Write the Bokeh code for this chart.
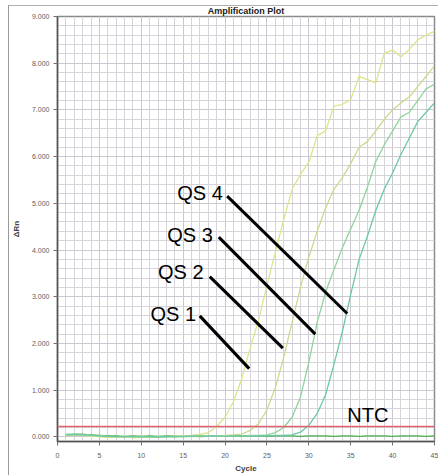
from bokeh.plotting import figure
from bokeh.models import (SingleIntervalTicker, NumeralTickFormatter,
                          Range1d, ColumnDataSource, Span)
from bokeh.core.properties import value
from bokeh.embed import file_html
from bokeh.resources import INLINE

# ---------------- data ----------------
cycles = list(range(1, 46))

qs1 = [0.03, 0.05, 0.04, 0.02, 0.00, -0.01, 0.00, 0.01, -0.02, -0.01,
       0.00, 0.01, 0.00, 0.02, 0.01, 0.03, 0.05, 0.09, 0.22, 0.42,
       0.75, 1.25, 1.90, 2.50, 3.25, 3.95, 4.65, 5.30, 5.62, 5.88,
       6.45, 6.55, 7.08, 7.12, 7.22, 7.72, 7.65, 7.58, 8.21, 8.28,
       8.14, 8.30, 8.50, 8.60, 8.68]

qs2 = [0.02, 0.04, 0.03, 0.01, 0.02, 0.00, -0.01, 0.00, 0.01, 0.00,
       -0.01, 0.00, 0.01, 0.00, 0.02, 0.01, 0.00, 0.01, 0.02, 0.03,
       0.04, 0.06, 0.14, 0.28, 0.58, 1.05, 1.70, 2.45, 3.20, 3.85,
       4.40, 4.90, 5.30, 5.55, 5.85, 6.20, 6.32, 6.55, 6.80, 7.00,
       7.15, 7.28, 7.50, 7.72, 7.95]

qs3 = [0.04, 0.05, 0.04, 0.03, 0.02, 0.01, 0.00, 0.01, 0.00, 0.01,
       0.00, -0.01, 0.00, 0.01, 0.00, 0.01, 0.02, 0.01, 0.02, 0.01,
       0.02, 0.02, 0.03, 0.03, 0.04, 0.09, 0.20, 0.42, 0.85, 1.60,
       2.45, 3.10, 3.58, 4.05, 4.45, 4.85, 5.35, 5.90, 6.25, 6.55,
       6.85, 6.95, 7.20, 7.45, 7.55]

qs4 = [0.05, 0.06, 0.05, 0.04, 0.02, 0.01, 0.01, 0.00, 0.01, 0.00,
       0.01, 0.00, 0.01, 0.00, 0.01, 0.02, 0.01, 0.02, 0.02, 0.01,
       0.02, 0.02, 0.01, 0.02, 0.02, 0.03, 0.03, 0.04, 0.10, 0.25,
       0.50, 0.90, 1.55, 2.25, 3.05, 3.80, 4.30, 4.85, 5.30, 5.65,
       6.05, 6.40, 6.75, 6.95, 7.15]

ntc = [0.04, 0.05, 0.05, 0.04, 0.03, 0.02, 0.02, 0.01, 0.02, 0.01,
       0.02, 0.01, 0.02, 0.02, 0.01, 0.02, 0.02, 0.01, 0.02, 0.02,
       0.02, 0.01, 0.02, 0.02, 0.01, 0.02, 0.02, 0.02, 0.01, 0.02,
       0.02, 0.02, 0.01, 0.02, 0.02, 0.01, 0.02, 0.02, 0.02, 0.01,
       0.02, 0.02, 0.02, 0.01, 0.02]

series_names = ["QS 1", "QS 2", "QS 3", "QS 4", "NTC"]
series_values = [qs1, qs2, qs3, qs4, ntc]
series_colors = ["#dfe48c", "#c6dc8c", "#8fd49c", "#6cc8a4", "#4caf50"]

threshold = 0.22

label_text = ["QS 1", "QS 2", "QS 3", "QS 4", "NTC"]
label_x = [11.1, 12.0, 13.1, 14.3, 34.6]
label_y = [2.62, 3.53, 4.33, 5.22, 0.46]

lead_x0 = [16.98, 18.17, 19.25, 20.25]
lead_y0 = [2.59, 3.43, 4.275, 5.155]
lead_x1 = [22.88, 26.90, 30.77, 34.58]
lead_y1 = [1.46, 1.90, 2.20, 2.64]

x_min, x_max = 0, 45
y_min, y_max = -0.1, 9.0
title_text = "Amplification Plot"

# ---------------- figure ----------------
p = figure(width=438, height=475, output_backend="svg", toolbar_location=None,
           x_range=Range1d(x_min, x_max), y_range=Range1d(y_min, y_max),
           min_border_left=57, min_border_right=4, min_border_top=16,
           min_border_bottom=27, title=title_text)
p.title.align = "center"
p.title.offset = -12
p.title.standoff = 1
p.title.text_font = "Liberation Sans"
p.title.text_font_style = "bold"
p.title.text_font_size = "9px"
p.title.text_color = "#202020"

p.background_fill_color = "white"
p.border_fill_color = None
p.outline_line_color = "#8a8a8a"
p.outline_line_width = 1.5

p.xaxis.ticker = SingleIntervalTicker(interval=5, num_minor_ticks=5)
p.yaxis.ticker = SingleIntervalTicker(interval=1, num_minor_ticks=5)
p.yaxis.formatter = NumeralTickFormatter(format="0.000")

for g in (p.xgrid, p.ygrid):
    g.grid_line_color = "#cbc7d1"
    g.grid_line_width = 1
    g.minor_grid_line_color = "#d6d3db"
    g.minor_grid_line_width = 1

for ax in (p.xaxis, p.yaxis):
    ax.axis_line_color = "#505050"
    ax.axis_line_width = 1.5
    ax.major_tick_line_color = "#707070"
    ax.major_tick_out = 4
    ax.major_tick_in = 0
    ax.minor_tick_out = 0
    ax.minor_tick_in = 0
    ax.major_label_text_font = "Liberation Sans"
    ax.major_label_text_font_size = "7px"
    ax.major_label_text_color = "#606060"
    ax.major_label_standoff = 4
    ax.axis_label_text_font = "Liberation Sans"
    ax.axis_label_text_font_style = "bold"
    ax.axis_label_text_font_size = "8px"
    ax.axis_label_text_color = "#404040"

p.xaxis.major_label_standoff = 7
p.xaxis.axis_label = "Cycle"
p.yaxis.axis_label = "ΔRn"
p.xaxis.axis_label_standoff = 3
p.yaxis.axis_label_standoff = 8

# threshold line
p.add_layout(Span(location=threshold, dimension="width",
                  line_color="#e26470", line_width=1.5))

# curves (NTC first so QS curves draw on top)
order = [4, 0, 1, 2, 3]
for i in order:
    p.line(cycles, series_values[i], line_color=series_colors[i],
           line_width=1.3)

# leader lines
lead_src = ColumnDataSource(dict(x0=lead_x0, y0=lead_y0, x1=lead_x1, y1=lead_y1))
p.segment(x0="x0", y0="y0", x1="x1", y1="y1", source=lead_src,
          line_color="black", line_width=3)

# labels
lab_src = ColumnDataSource(dict(x=label_x, y=label_y, text=label_text))
p.text(x="x", y="y", text="text", source=lab_src,
       text_font=value("Liberation Sans"), text_font_size="20px",
       text_color="black", text_baseline="alphabetic", text_align="left")

# outer screenshot box (left and top edges) drawn as page background
p.styles = {
    "background-color": "white",
    "background-image": "linear-gradient(#9a9a9a, #9a9a9a), linear-gradient(#b0b0b0, #b0b0b0)",
    "background-size": "1px 470px, 430px 1px",
    "background-position": "8px 5px, 8px 5px",
    "background-repeat": "no-repeat",
}

open("out.html", "w").write(file_html(p, INLINE))
